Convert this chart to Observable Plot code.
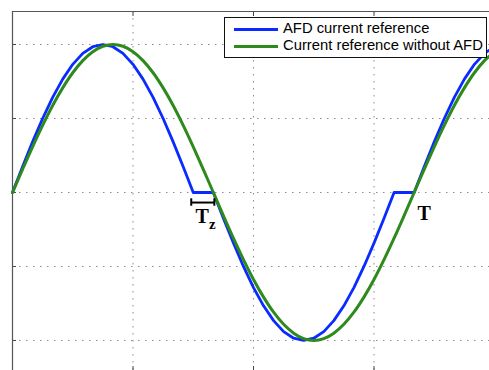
<!DOCTYPE html>
<html>
<head>
<meta charset="utf-8">
<script src="https://cdn.jsdelivr.net/npm/d3@7"></script>
<script src="https://cdn.jsdelivr.net/npm/@observablehq/plot@0.6"></script>
<style>
  html, body { margin: 0; padding: 0; background: #fff; overflow: hidden; }
  #wrap { position: relative; width: 489px; height: 370px; overflow: hidden; }
  #legend { position: absolute; left: 224px; top: 17px; width: 261px; height: 39px;
            border: 1px solid #111; background: #fff;
            font-family: "Liberation Sans", Arial, sans-serif; font-size: 14.8px; color: #000; }
  .sw { position: absolute; left: 9px; width: 44px; height: 3px; }
  .lb { position: absolute; left: 58px; line-height: 17px; white-space: nowrap; }
</style>
</head>
<body>
<div id="wrap"></div>
<script>
// time in ms (one grid cell = 6 ms, period 20 ms)
const time = [0,0.5,1,1.5,2,2.5,3,3.5,4,4.5,5,5.5,6,6.5,7,7.5,8,8.5,9,9.5,10,10.5,11,11.5,12,12.5,13,13.5,14,14.5,15,15.5,16,16.5,17,17.5,18,18.5,19,19.5,20,20.5,21,21.5,22,22.5,23,23.5,24];
// Current reference without AFD (green)
const withoutAFD = [0,0.156,0.309,0.454,0.588,0.707,0.809,0.891,0.951,0.988,1,0.988,0.951,0.891,0.809,0.707,0.588,0.454,0.309,0.156,0,-0.156,-0.309,-0.454,-0.588,-0.707,-0.809,-0.891,-0.951,-0.988,-1,-0.988,-0.951,-0.891,-0.809,-0.707,-0.588,-0.454,-0.309,-0.156,0,0.156,0.309,0.454,0.588,0.707,0.809,0.891,0.951];
// AFD current reference (blue)
const afd = [0,0.174,0.342,0.5,0.643,0.766,0.866,0.94,0.985,1,0.985,0.94,0.866,0.766,0.643,0.5,0.342,0.174,0,0,0,-0.174,-0.342,-0.5,-0.643,-0.766,-0.866,-0.94,-0.985,-1,-0.985,-0.94,-0.866,-0.766,-0.643,-0.5,-0.342,-0.174,0,0,0,0.174,0.342,0.5,0.643,0.766,0.866,0.94,0.985];

const seriesNames = ["AFD current reference", "Current reference without AFD"];
const seriesColors = ["#0a2bff", "#2e8a1c"];
const xTicks = [6, 12, 18];
const yTicks = [-1, -0.5, 0, 0.5, 1];
const xDomain = [0, 24];
const yDomain = [-1.203, 1.223];

// annotations
const tzStart = 8.9, tzEnd = 10.05, tzY = -0.068;
const tzLabel = {x: 9.45, y: -0.16, text: "T"};
const tzSub = {x: 9.95, y: -0.215, text: "z"};
const tLabel = {x: 20.5, y: -0.145, text: "T"};

const greenData = time.map((t, i) => ({t, v: withoutAFD[i]}));
const blueData = time.map((t, i) => ({t, v: afd[i]}));

const gridStyle = {stroke: "#8a8a8a", strokeOpacity: 1, strokeDasharray: "1.5,5.5", strokeWidth: 1};

const chart = Plot.plot({
  width: 489,
  height: 370,
  marginLeft: 12,
  marginTop: 11,
  marginRight: -5,
  marginBottom: 0,
  x: {domain: xDomain, ticks: xTicks},
  y: {domain: yDomain, ticks: yTicks},
  style: {background: "#fff", overflow: "hidden"},
  marks: [
    Plot.gridX(xTicks, gridStyle),
    Plot.gridY(yTicks, gridStyle),
    Plot.axisY(yTicks, {anchor: "left", tickSize: 4, dx: 4, tickFormat: () => "", label: null, stroke: "#444"}),
    Plot.axisX(xTicks, {anchor: "top", tickSize: 4, dy: 4, tickFormat: () => "", label: null, stroke: "#444"}),
    Plot.axisX(xTicks, {anchor: "bottom", tickSize: 4, dy: -4, tickFormat: () => "", label: null, stroke: "#444"}),
    Plot.ruleX([xDomain[0]], {stroke: "#555", strokeWidth: 1.2}),
    Plot.ruleY([yDomain[1]], {stroke: "#555", strokeWidth: 1.2}),
    Plot.line(blueData, {x: "t", y: "v", stroke: seriesColors[0], strokeWidth: 2.8, curve: "linear"}),
    Plot.line(greenData, {x: "t", y: "v", stroke: seriesColors[1], strokeWidth: 3, curve: "catmull-rom"}),
    // Tz bracket
    Plot.link([{x1: tzStart, x2: tzEnd, y: tzY}], {x1: "x1", x2: "x2", y1: "y", y2: "y", stroke: "#000", strokeWidth: 2}),
    Plot.ruleX([tzStart, tzEnd], {y1: tzY - 0.025, y2: tzY + 0.025, stroke: "#000", strokeWidth: 2}),
    Plot.text([tzLabel, tLabel], {x: "x", y: "y", text: "text", fontFamily: "Liberation Serif, serif", fontWeight: "bold", fontSize: 20, fill: "#000"}),
    Plot.text([tzSub], {x: "x", y: "y", text: "text", fontFamily: "Liberation Serif, serif", fontWeight: "bold", fontSize: 15, fill: "#000"})
  ]
});

const wrap = document.getElementById("wrap");
wrap.appendChild(chart);

const legend = document.createElement("div");
legend.id = "legend";
seriesNames.forEach((name, i) => {
  const sw = document.createElement("div");
  sw.className = "sw";
  sw.style.top = (i === 0 ? 10 : 27) + "px";
  sw.style.background = seriesColors[i];
  const lb = document.createElement("div");
  lb.className = "lb";
  lb.style.top = (i === 0 ? 2 : 19) + "px";
  lb.textContent = name;
  legend.appendChild(sw);
  legend.appendChild(lb);
});
wrap.appendChild(legend);
</script>
</body>
</html>
